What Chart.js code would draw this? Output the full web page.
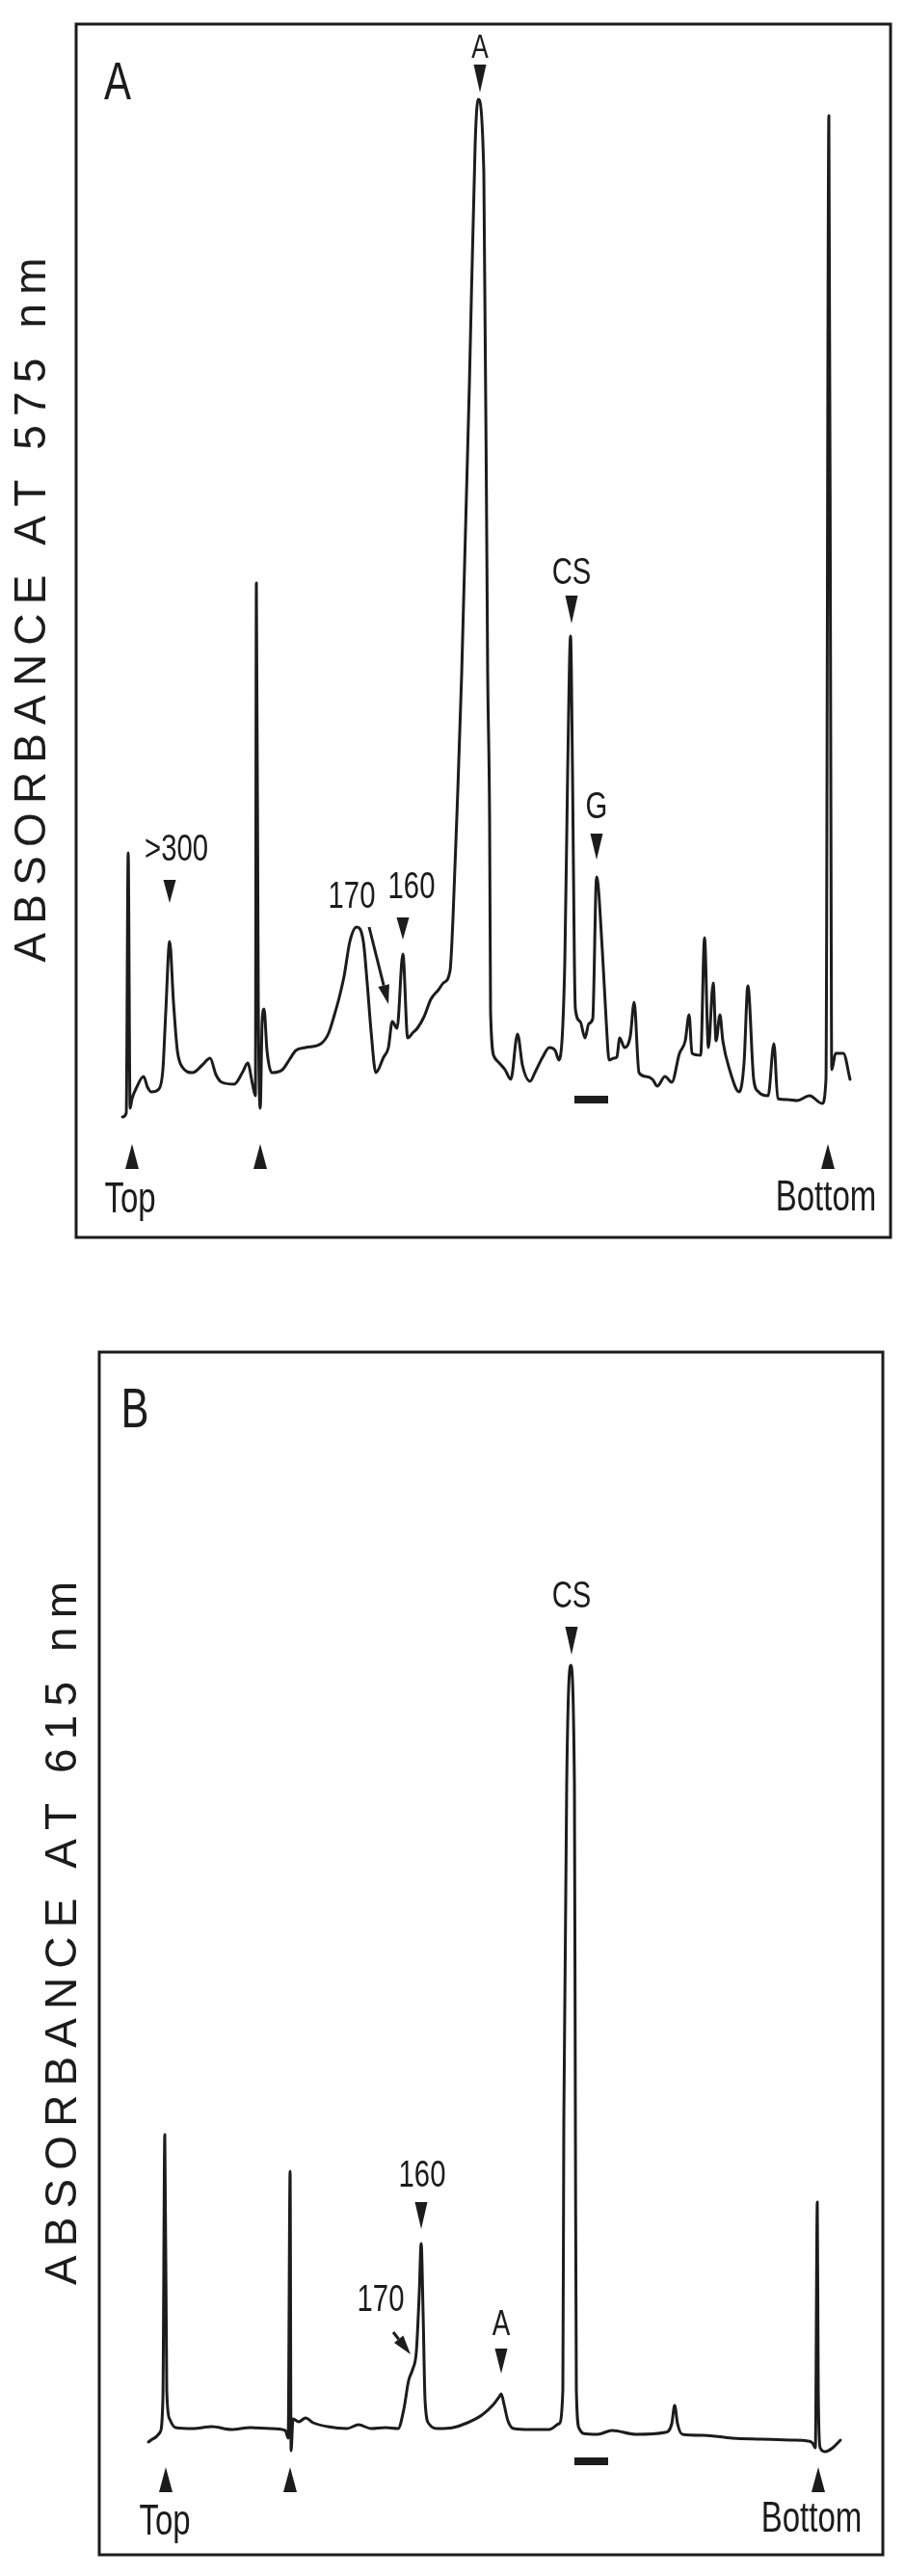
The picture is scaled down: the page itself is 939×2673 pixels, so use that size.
<!DOCTYPE html>
<html>
<head>
<meta charset="utf-8">
<script src="https://cdn.jsdelivr.net/npm/chart.js@4.4.0/dist/chart.umd.min.js"></script>
<style>
html, body { margin: 0; padding: 0; background: #fff; }
body { width: 939px; height: 2673px; position: relative; overflow: hidden; }
canvas { position: absolute; left: 0; }
#chartA { top: 0; }
#chartB { top: 1360px; }
</style>
</head>
<body>
<canvas id="chartA" width="939" height="1330"></canvas>
<canvas id="chartB" width="939" height="1313"></canvas>
<script>
// distance along the gradient (mm from the top marker) and absorbance (arbitrary units)
const distA = [-1.0, -0.6, -0.4, -0.2, 0.0, 0.4, 1.2, 1.6, 2.0, 2.8, 3.2, 3.5, 3.9, 4.3, 4.7, 5.2, 6.3, 7.3, 8.1, 8.7,
  9.3, 10.6, 11.5, 12.0, 12.5, 12.8, 12.9, 13.1, 13.3, 13.5, 13.7, 14.0, 14.5, 15.6, 16.3, 17.0, 18.0, 19.6, 20.4, 21.0,
  21.5, 22.0, 22.6, 23.3, 24.0, 24.4, 24.8, 25.3, 26.1, 26.6, 27.0, 27.5, 28.1, 28.6, 29.1, 29.6, 30.3, 31.0, 31.8, 32.3,
  33.0, 33.3, 33.8, 34.2, 35.0, 35.6, 35.9, 36.5, 36.9, 37.1, 37.2, 37.6, 38.1, 38.7, 39.3, 40.0, 40.5, 41.3, 41.8,
  42.6, 43.3, 43.9, 44.3, 44.9, 45.2, 45.5, 45.7, 45.9, 46.0, 46.5, 47.0, 47.4, 47.8, 48.2, 48.8, 49.2, 49.5, 50.0, 50.3,
  50.6, 51.1, 51.7, 52.1, 52.6, 53.3, 54.0, 54.5, 55.3, 56.0, 56.8, 57.4, 57.8, 58.1, 59.0, 59.4, 59.8, 60.3, 60.6, 61.0,
  61.3, 62.0, 63.0, 63.5, 63.9, 64.5, 65.0, 66.0, 66.6, 67.0, 68.0, 69.0, 70.3, 71.6, 72.0, 72.3, 72.5, 72.6, 73.0, 73.8, 74.5];
const absA = [0.001, 0.005, 0.275, 0.010, 0.020, 0.030, 0.043, 0.032, 0.027, 0.030, 0.050, 0.110, 0.183, 0.120, 0.070, 0.053, 0.047, 0.055, 0.062, 0.045,
  0.037, 0.035, 0.048, 0.057, 0.035, 0.023, 0.555, 0.120, 0.010, 0.100, 0.113, 0.070, 0.047, 0.050, 0.060, 0.070, 0.073, 0.077, 0.088, 0.107,
  0.125, 0.147, 0.183, 0.198, 0.183, 0.140, 0.090, 0.047, 0.063, 0.073, 0.100, 0.093, 0.170, 0.083, 0.088, 0.093, 0.105, 0.123, 0.133, 0.140,
  0.153, 0.207, 0.340, 0.460, 0.760, 1.010, 1.057, 0.981, 0.460, 0.310, 0.110, 0.063, 0.057, 0.050, 0.040, 0.087, 0.055, 0.038, 0.047,
  0.063, 0.073, 0.070, 0.060, 0.160, 0.360, 0.500, 0.360, 0.160, 0.113, 0.100, 0.083, 0.098, 0.103, 0.250, 0.173, 0.100, 0.060, 0.062, 0.063,
  0.083, 0.073, 0.085, 0.120, 0.047, 0.043, 0.040, 0.033, 0.043, 0.037, 0.067, 0.080, 0.107, 0.067, 0.065, 0.187, 0.073, 0.140, 0.080, 0.107,
  0.080, 0.050, 0.027, 0.057, 0.137, 0.040, 0.027, 0.023, 0.077, 0.020, 0.019, 0.018, 0.023, 0.015, 0.040, 1.040, 0.360, 0.050, 0.067, 0.067, 0.040];

const distB = [-1.8, -1.2, -0.6, -0.3, -0.1, 0.1, 0.4, 1.0, 2.8, 4.8, 6.8, 8.8, 10.8, 12.4, 12.7, 12.9, 13.0, 13.2, 13.8, 14.5,
  15.3, 16.8, 18.8, 20.0, 21.3, 22.8, 24.1, 24.7, 25.2, 25.6, 26.0, 26.3, 26.5, 26.7, 26.9, 27.3, 28.3, 29.8, 31.3, 32.8,
  34.0, 34.6, 34.8, 35.1, 35.5, 36.1, 37.8, 39.8, 40.8, 41.2, 41.3, 41.6, 42.0, 42.4, 42.5, 42.6, 42.9, 43.3, 44.8, 46.3,
  48.8, 51.8, 52.5, 52.8, 53.1, 53.6, 55.8, 58.8, 61.8, 64.8, 66.6, 67.1, 67.4, 67.6, 67.7, 67.9, 68.4, 69.2, 70.0];
const absB = [-0.004, 0.000, 0.006, 0.040, 0.315, 0.050, 0.020, 0.011, 0.010, 0.012, 0.009, 0.011, 0.010, 0.008, 0.000, 0.277, -0.013, 0.020, 0.017, 0.021,
  0.016, 0.012, 0.010, 0.014, 0.010, 0.011, 0.010, 0.030, 0.060, 0.071, 0.090, 0.150, 0.202, 0.130, 0.040, 0.015, 0.010, 0.011, 0.016, 0.024,
  0.035, 0.043, 0.046, 0.035, 0.018, 0.010, 0.009, 0.009, 0.015, 0.050, 0.330, 0.680, 0.802, 0.680, 0.330, 0.050, 0.010, 0.005, 0.004, 0.008,
  0.004, 0.006, 0.015, 0.034, 0.015, 0.004, 0.003, 0.000, -0.001, -0.002, -0.003, -0.005, -0.010, 0.245, 0.050, -0.010, -0.014, -0.010, -0.002];

const ink = '#1c1c1c';
const labelFont = '"Liberation Sans", Arial, sans-serif';

function squeezeText(ctx, text, x, y, size) {
  ctx.save();
  ctx.translate(x, y);
  ctx.scale(0.75, 1);
  ctx.font = size + 'px ' + labelFont;
  ctx.textAlign = 'center';
  ctx.textBaseline = 'middle';
  ctx.fillText(text, 0, 0);
  ctx.restore();
}

// rotated axis title, letters spread to a given length
function spacedTitle(ctx, t) {
  ctx.save();
  ctx.translate(t.cx, t.cy);
  ctx.rotate(-Math.PI / 2);
  ctx.font = t.size + 'px ' + labelFont;
  ctx.textAlign = 'left';
  ctx.textBaseline = 'middle';
  const chars = [...t.text];
  const widths = chars.map(c => ctx.measureText(c).width);
  const total = widths.reduce((a, b) => a + b, 0);
  const gap = (t.length - total) / (chars.length - 1);
  let pos = -t.length / 2;
  chars.forEach((c, i) => {
    ctx.fillText(c, pos, 0);
    pos += widths[i] + gap;
  });
  ctx.restore();
}

function triangle(ctx, x, yTip, yBase, half) {
  ctx.beginPath();
  ctx.moveTo(x, yTip);
  ctx.lineTo(x - half, yBase);
  ctx.lineTo(x + half, yBase);
  ctx.closePath();
  ctx.fill();
}

const decorPlugin = {
  id: 'decor',
  afterDatasetsDraw(chart, args, o) {
    const { ctx, chartArea: a } = chart;
    const sx = chart.scales.x, sy = chart.scales.y;
    const px = v => sx.getPixelForValue(v);
    const py = v => sy.getPixelForValue(v);
    ctx.save();
    ctx.fillStyle = ink;
    ctx.strokeStyle = ink;

    ctx.lineWidth = 3;
    ctx.strokeRect(a.left, a.top, a.right - a.left, a.bottom - a.top);

    squeezeText(ctx, o.letter.text, px(o.letter.x), py(o.letter.y), o.letter.size);
    spacedTitle(ctx, o.title);

    o.labels.forEach(l => squeezeText(ctx, l.t, px(l.x), py(l.y), l.size || 39));
    o.down.forEach(d => triangle(ctx, px(d.x), py(d.y1), py(d.y0), 6.5));
    o.up.x.forEach(v => triangle(ctx, px(v), py(o.up.tip), py(o.up.base), 7));

    o.slant.forEach(s => {
      const x0 = px(s.x0), y0 = py(s.y0), x1 = px(s.x1), y1 = py(s.y1);
      const ang = Math.atan2(y1 - y0, x1 - x0);
      const head = 20;
      const bx = x1 - head * Math.cos(ang), by = y1 - head * Math.sin(ang);
      ctx.lineWidth = 3;
      ctx.beginPath();
      ctx.moveTo(x0, y0);
      ctx.lineTo(bx, by);
      ctx.stroke();
      ctx.beginPath();
      ctx.moveTo(x1, y1);
      ctx.lineTo(bx + 6 * Math.sin(ang), by - 6 * Math.cos(ang));
      ctx.lineTo(bx - 6 * Math.sin(ang), by + 6 * Math.cos(ang));
      ctx.closePath();
      ctx.fill();
    });

    const b = o.bar;
    ctx.fillRect(px(b.x0), py(b.y) - b.h / 2, px(b.x1) - px(b.x0), b.h);
    ctx.restore();
  }
};

function makeChart(id, dist, abs, xRange, yRange, padding, decor) {
  return new Chart(document.getElementById(id), {
    type: 'line',
    data: {
      datasets: [{
        data: dist.map((d, i) => ({ x: d, y: abs[i] })),
        borderColor: ink,
        borderWidth: 3,
        pointRadius: 0,
        cubicInterpolationMode: 'monotone',
        fill: false,
        borderJoinStyle: 'round',
        borderCapStyle: 'round'
      }]
    },
    options: {
      responsive: false,
      animation: false,
      devicePixelRatio: 1,
      layout: { padding: padding },
      scales: {
        x: { type: 'linear', display: false, min: xRange[0], max: xRange[1] },
        y: { type: 'linear', display: false, min: yRange[0], max: yRange[1] }
      },
      plugins: {
        legend: { display: false },
        tooltip: { enabled: false },
        decor: decor
      }
    },
    plugins: [decorPlugin]
  });
}

makeChart('chartA', distA, absA, [-5.8, 78.7], [-0.124, 1.135],
  { left: 79, top: 25, right: 15, bottom: 46 },
  {
    letter: { text: 'A', x: -1.5, y: 1.072, size: 56 },
    title: { text: 'ABSORBANCE AT 575 nm', cx: 34, cy: 633, size: 46, length: 731 },
    labels: [
      { t: '>300', x: 4.6, y: 0.278 },
      { t: '170', x: 22.8, y: 0.229 },
      { t: '160', x: 29.0, y: 0.239 },
      { t: 'CS', x: 45.6, y: 0.565 },
      { t: 'G', x: 48.2, y: 0.322 },
      { t: 'A', x: 36.1, y: 1.110, size: 35 },
      { t: 'Top', x: -0.2, y: -0.086, size: 44 },
      { t: 'Bottom', x: 72.0, y: -0.084, size: 44 }
    ],
    down: [
      { x: 3.9, y0: 0.247, y1: 0.223 },
      { x: 28.1, y0: 0.208, y1: 0.185 },
      { x: 45.6, y0: 0.542, y1: 0.513 },
      { x: 48.2, y0: 0.295, y1: 0.268 },
      { x: 36.1, y0: 1.093, y1: 1.064 }
    ],
    up: { x: [0, 13.3, 72.2], tip: -0.027, base: -0.053 },
    slant: [{ x0: 24.6, y0: 0.198, x1: 26.6, y1: 0.118 }],
    bar: { x0: 45.9, x1: 49.4, y: 0.019, h: 8 }
  });

makeChart('chartB', distB, absB, [-6.9, 74.4], [-0.121, 1.127],
  { left: 103, top: 43, right: 23, bottom: 22 },
  {
    letter: { text: 'B', x: -3.2, y: 1.065, size: 58 },
    title: { text: 'ABSORBANCE AT 615 nm', cx: 66, cy: 646, size: 46, length: 730 },
    labels: [
      { t: 'CS', x: 42.1, y: 0.873 },
      { t: '160', x: 26.6, y: 0.272 },
      { t: '170', x: 22.3, y: 0.143 },
      { t: 'A', x: 34.8, y: 0.117, size: 37 },
      { t: 'Top', x: -0.1, y: -0.088, size: 44 },
      { t: 'Bottom', x: 67.0, y: -0.085, size: 44 }
    ],
    down: [
      { x: 42.1, y0: 0.842, y1: 0.813 },
      { x: 26.5, y0: 0.245, y1: 0.217 },
      { x: 34.8, y0: 0.093, y1: 0.067 }
    ],
    up: { x: [0, 12.9, 67.7], tip: -0.030, base: -0.056 },
    slant: [{ x0: 23.6, y0: 0.110, x1: 25.4, y1: 0.087 }],
    bar: { x0: 42.4, x1: 45.9, y: -0.024, h: 8 }
  });
</script>
</body>
</html>
